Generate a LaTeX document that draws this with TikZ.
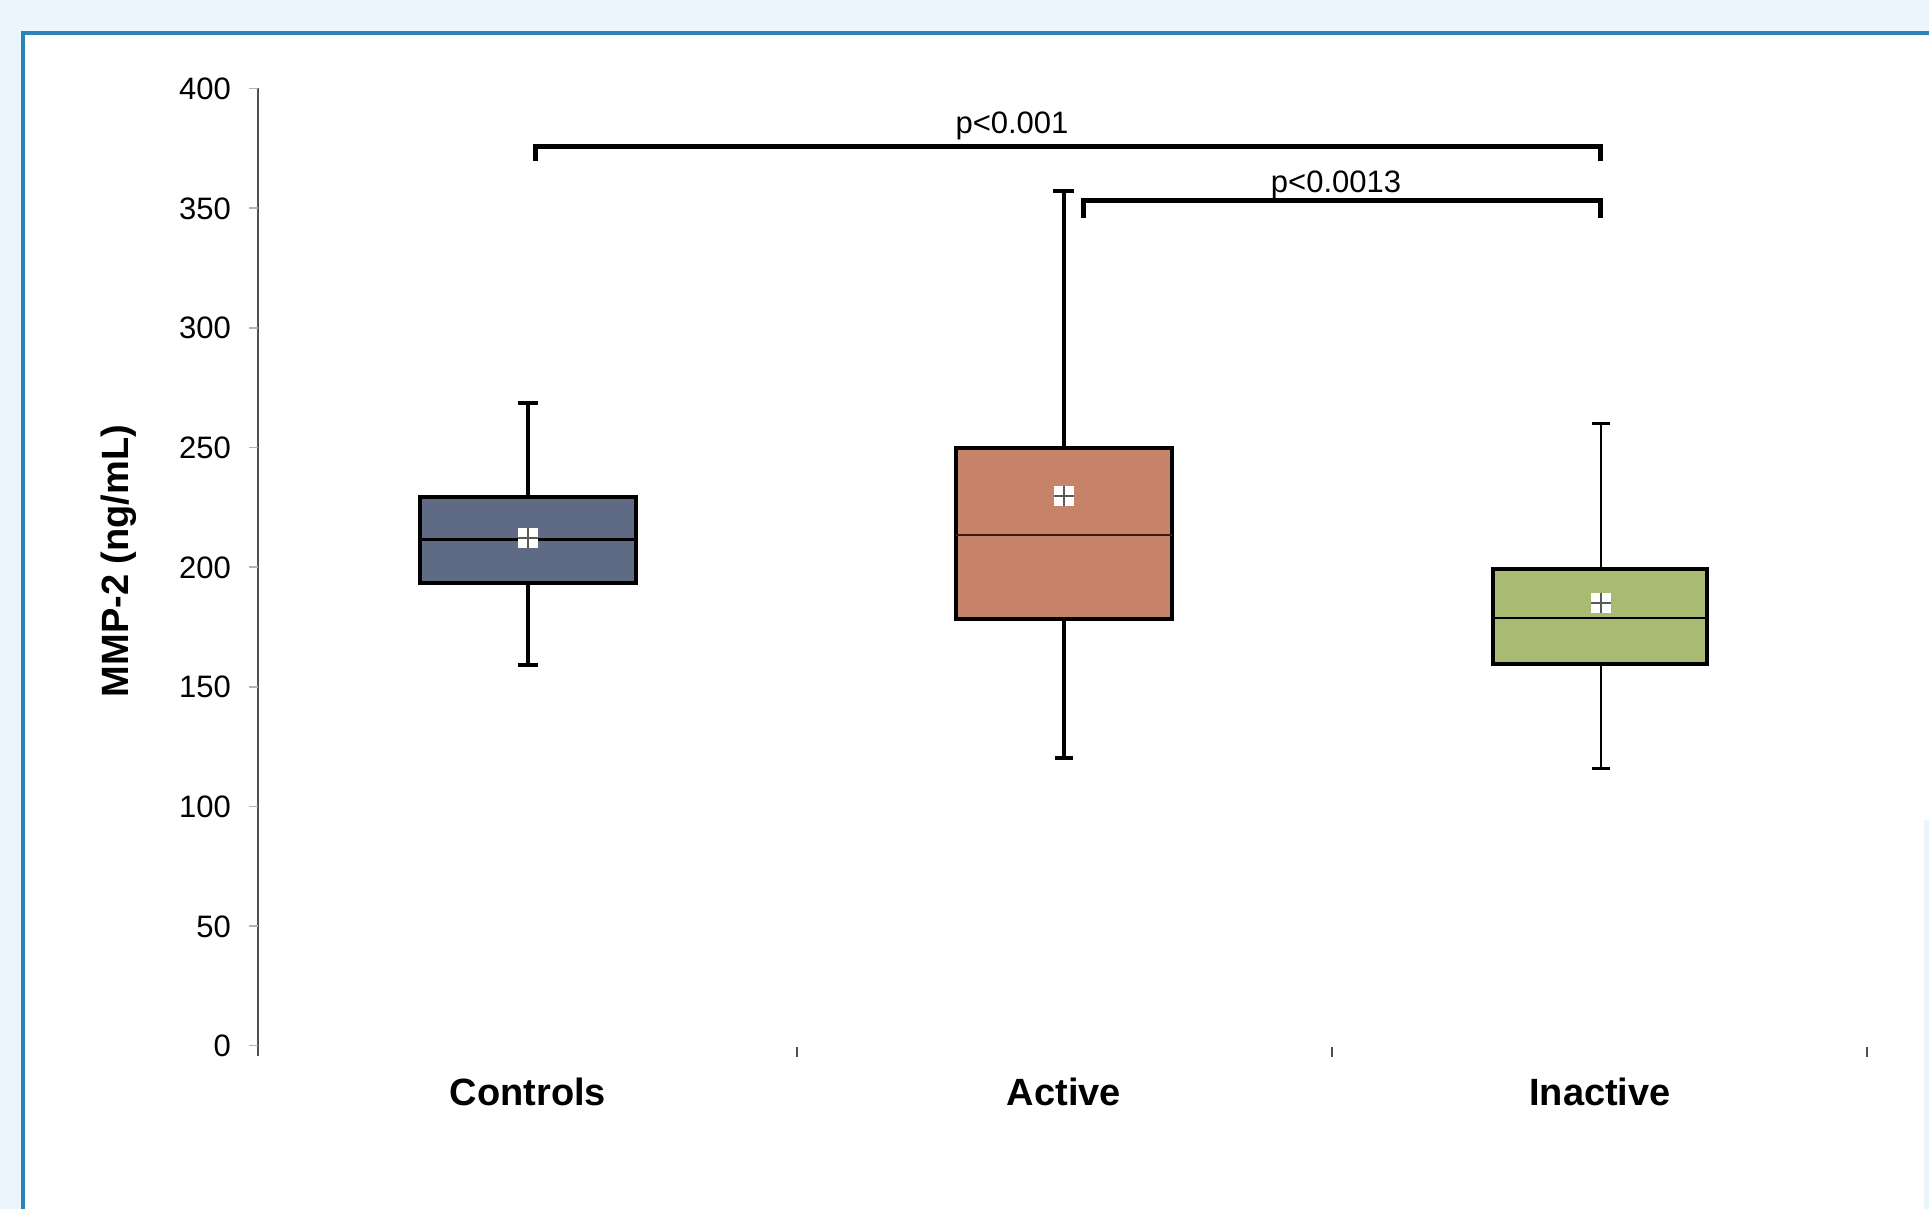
\documentclass[tikz,border=0pt]{standalone}
\usepackage{fontspec}
\setmainfont{Liberation Sans}
\definecolor{bgcyan}{HTML}{EAF6FB}
\definecolor{frameblue}{HTML}{2C83B8}
\definecolor{ctrlfill}{HTML}{5F6B85}
\definecolor{actfill}{HTML}{C7836A}
\definecolor{inactfill}{HTML}{A9BA73}
\definecolor{axisgray}{HTML}{505050}
\definecolor{actmed}{HTML}{3A1A12}
\newcommand\meanmark[2]{%
  \fill[white] (#1-10,#2-10) rectangle (#1+10,#2+10);
  \draw[gray!70!black, line width=1.4] (#1-10,#2) -- (#1+10,#2) (#1,#2-10) -- (#1,#2+10);
}
\begin{document}
\begin{tikzpicture}[x=1pt,y=-1pt,
  ticklab/.style={font=\fontsize{31}{36}\selectfont, anchor=base east, inner sep=0pt},
  plab/.style={font=\fontsize{31}{36}\selectfont, anchor=base, inner sep=0pt},
  catlab/.style={font=\fontsize{38}{44}\selectfont\bfseries, anchor=base, inner sep=0pt},
  bracket/.style={line width=5, line join=miter, line cap=butt},
  whisk/.style={line width=#1, line cap=butt},
  capline/.style={line width=#1, line cap=butt}]
\useasboundingbox (0,0) rectangle (1929,1209);
% background and frame
\fill[bgcyan] (0,0) rectangle (1929,1209);
\fill[white] (23,33) rectangle (1929,1209);
\fill[bgcyan] (1924,820) rectangle (1929,1209);
\draw[frameblue, line width=4] (23,1209) -- (23,33) -- (1929,33);

% y axis
\coordinate (ytop) at (258,88);
\coordinate (ybot) at (258,1056);
\draw[axisgray, line width=2] (ytop) -- (ybot);
\foreach \v in {0,50,...,400} {
  \pgfmathsetmacro\yy{1045.7-2.393*\v}
  \draw[gray!60, line width=1.5] (249,\yy) -- (258,\yy);
  \node[ticklab] (t\v) at (231,\yy+11) {\v};
}
% category ticks
\foreach \x in {797,1332,1867} {
  \draw[axisgray, line width=2] (\x,1047) -- (\x,1057);
}
\node[catlab] (lctrl) at (528,1105) {Controls};
\node[catlab] (lact) at (1064,1105) {Active};
\node[catlab] (linact) at (1600,1105) {Inactive};
\node[catlab, rotate=90, anchor=center] (ylab) at (119,561) {MMP-2 (ng/mL)};

% Controls
\coordinate (cwt) at (528,403); \coordinate (cwb) at (528,665);
\coordinate (cbt) at (528,497); \coordinate (cbb) at (528,583);
\draw[whisk=3.5] (cwt) -- (cbt);
\draw[whisk=3.5] (cbb) -- (cwb);
\draw[capline=4] (518,403) -- (538,403);
\draw[capline=4] (518,665) -- (538,665);
\draw[fill=ctrlfill, line width=4] (420,497) rectangle (636,583);
\draw[line width=3] (420,539) -- (636,539);
\meanmark{528}{538}

% Active
\coordinate (awt) at (1064,191); \coordinate (awb) at (1064,758);
\coordinate (abt) at (1064,448); \coordinate (abb) at (1064,619);
\draw[whisk=3.5] (awt) -- (abt);
\draw[whisk=3.5] (abb) -- (awb);
\draw[capline=4] (1053,191) -- (1074,191);
\draw[capline=4] (1055,758) -- (1073,758);
\draw[fill=actfill, line width=3.5] (956,448) rectangle (1172,619);
\draw[actmed, line width=2.5] (956,535) -- (1172,535);
\meanmark{1064}{496}

% Inactive
\coordinate (iwt) at (1601,423); \coordinate (iwb) at (1601,768);
\coordinate (ibt) at (1601,569); \coordinate (ibb) at (1601,664);
\draw[whisk=2] (iwt) -- (ibt);
\draw[whisk=2] (ibb) -- (iwb);
\draw[capline=3] (1592,423) -- (1610,423);
\draw[capline=3] (1592,768) -- (1610,768);
\draw[fill=inactfill, line width=4.5] (1493,569) rectangle (1707,664);
\draw[line width=2.5] (1493,618) -- (1707,618);
\meanmark{1601}{603}

% significance brackets
\coordinate (b1l) at (535,161); \coordinate (b1r) at (1600,161);
\draw[bracket] (b1l) -- (535,147) -- (1600,147) -- (b1r);
\node[plab] (p1) at (1012,134) {p<0.001};
\coordinate (b2l) at (1083,218); \coordinate (b2r) at (1600,218);
\draw[bracket] (b2l) -- (1083,201) -- (1600,201) -- (b2r);
\node[plab] (p2) at (1336,193) {p<0.0013};
\end{tikzpicture}
\end{document}
